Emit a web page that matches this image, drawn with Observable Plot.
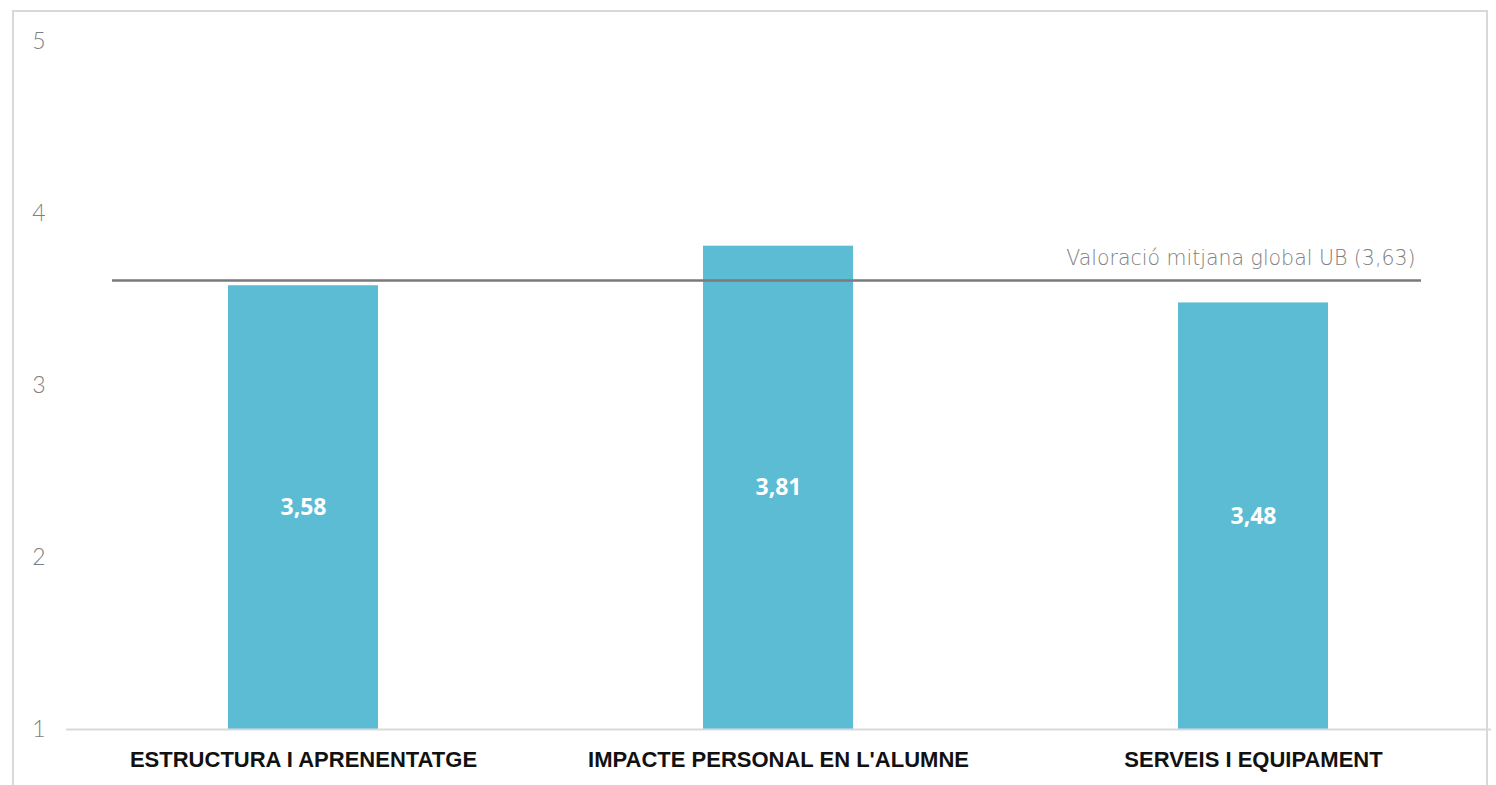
<!DOCTYPE html>
<html>
<head>
<meta charset="utf-8">
<script src="https://cdn.jsdelivr.net/npm/d3@7"></script>
<script src="https://cdn.jsdelivr.net/npm/@observablehq/plot@0.6"></script>
<style>
  html, body { margin: 0; padding: 0; background: #fff; overflow: hidden; width: 1496px; height: 785px; }
  #frame { position: absolute; left: 12px; top: 10px; width: 1476px; height: 800px; border: 2px solid #d9d9d9; box-sizing: border-box; }
  #chart { position: absolute; left: 0; top: 0; }
</style>
</head>
<body>
<div id="frame"></div>
<div id="chart"></div>
<script>
const categories = ["ESTRUCTURA I APRENENTATGE", "IMPACTE PERSONAL EN L'ALUMNE", "SERVEIS I EQUIPAMENT"];
const values = [3.58, 3.81, 3.48];
const valueLabels = ["3,58", "3,81", "3,48"];
const yTicks = [1, 2, 3, 4, 5];
const globalMean = 3.61;
const globalMeanLabel = "Valoració mitjana global UB (3,63)";

const data = categories.map((c, i) => ({category: c, value: values[i], label: valueLabels[i]}));

const chart = Plot.plot({
  width: 1496,
  height: 785,
  marginLeft: 66,
  marginRight: 5,
  marginTop: 41,
  marginBottom: 56,
  style: {fontFamily: "Lato, 'DejaVu Sans', sans-serif", background: "transparent"},
  x: {domain: categories, paddingInner: 0.684, paddingOuter: 0.342, align: 0.5, label: null},
  y: {domain: [1, 5], ticks: yTicks, label: null},
  marks: [
    Plot.axisY({ticks: yTicks, tickFormat: d => String(d), tickSize: 0, tickPadding: 21, fontSize: 23, fill: "#808080", fontFamily: "Lato, 'DejaVu Sans', sans-serif", fontWeight: 300, label: null}),
    Plot.axisX({tickSize: 0, tickPadding: 22, fontSize: 22, fontWeight: "bold", fill: "#111", fontFamily: "'Liberation Sans', Arial, sans-serif", label: null}),
    Plot.barY(data, {x: "category", y1: 1, y2: "value", fill: "#5bbcd3"}),
    Plot.ruleY([1], {stroke: "#d9d9d9", strokeWidth: 2}),
    Plot.ruleY([globalMean], {stroke: "#7a7a7a", strokeWidth: 2.5, insetLeft: 46, insetRight: 70}),
    Plot.text([globalMeanLabel], {frameAnchor: "right", y: globalMean, dx: -76, dy: -22, textAnchor: "end", fill: "#808080", fontSize: 20.5, fontFamily: "'DejaVu Sans', sans-serif", fontWeight: 300}),
    Plot.text(data, {x: "category", y: d => (1 + d.value) / 2, text: "label", fill: "#fff", fontSize: 23, fontWeight: "bold", fontFamily: "'Open Sans', sans-serif"})
  ]
});
document.getElementById("chart").appendChild(chart);
</script>
</body>
</html>
